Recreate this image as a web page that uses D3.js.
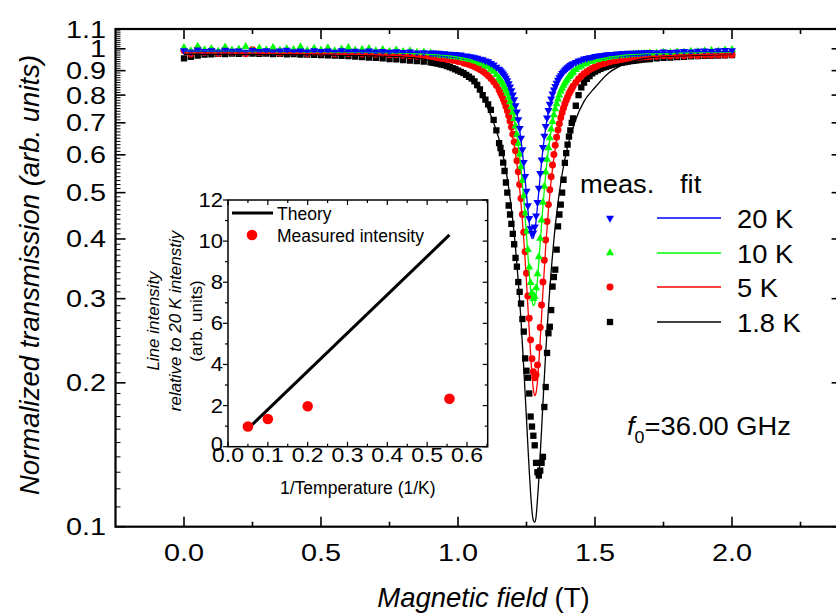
<!DOCTYPE html>
<html>
<head>
<meta charset="utf-8">
<script src="https://cdn.jsdelivr.net/npm/d3@7"></script>
<style>
  body { margin: 0; background: #fff; }
  text { font-family: "Liberation Sans", Arial, sans-serif; fill: #000; }
</style>
</head>
<body>
<svg id="ctner"></svg>
<script>
// magnetic field grid of the measured points (T)
const field = [
  0, 0.025, 0.05, 0.075, 0.1, 0.125, 0.15, 0.175, 0.2, 0.225, 0.25, 0.275, 0.3, 0.325, 0.35, 0.375, 0.4, 0.425, 0.45, 0.475, 0.5, 0.525, 0.55, 0.575, 0.6, 0.625, 0.65, 0.675, 0.7, 0.725, 0.75, 0.775, 0.8, 0.825, 0.85, 0.875, 0.9,
  0.91, 0.92, 0.93, 0.94, 0.95, 0.96, 0.97, 0.98, 0.99, 1.0, 1.01, 1.02, 1.03, 1.04, 1.05, 1.06, 1.07, 1.08, 1.09, 1.1, 1.11, 1.12, 1.13, 1.14,
  1.15, 1.155, 1.16, 1.165, 1.17, 1.175, 1.18, 1.185, 1.19, 1.195, 1.2, 1.205, 1.21, 1.215, 1.22, 1.225, 1.23, 1.235, 1.24, 1.245, 1.25, 1.255, 1.26, 1.265, 1.27, 1.275, 1.28, 1.285, 1.29, 1.295, 1.3, 1.305, 1.31, 1.315, 1.32, 1.325, 1.33, 1.335, 1.34, 1.345, 1.35, 1.355, 1.36, 1.365, 1.37, 1.375, 1.38, 1.385, 1.39, 1.395, 1.4, 1.405, 1.41, 1.415, 1.42,
  1.43, 1.44, 1.45, 1.46, 1.47, 1.48, 1.49, 1.5, 1.51, 1.52, 1.53, 1.54, 1.55, 1.56, 1.57, 1.58, 1.59, 1.6, 1.61, 1.62, 1.63, 1.64, 1.65, 1.66, 1.67, 1.68, 1.69, 1.7,
  1.725, 1.75, 1.775, 1.8, 1.825, 1.85, 1.875, 1.9, 1.925, 1.95, 1.975, 2.0
];

// measured normalized transmission, same order as field
const meas20K = [
  0.992, 0.985, 0.995, 0.988, 0.991, 0.986, 0.994, 0.989, 0.99, 0.984, 0.993, 0.988, 0.991, 0.986, 0.99, 0.994, 0.987, 0.99, 0.985, 0.992, 0.988, 0.99, 0.984, 0.991, 0.987, 0.989, 0.985, 0.99, 0.986, 0.988, 0.984, 0.987, 0.983, 0.985, 0.981, 0.982, 0.979,
  0.981, 0.978, 0.98, 0.976, 0.977, 0.973, 0.975, 0.972, 0.974, 0.97, 0.971, 0.966, 0.967, 0.963, 0.962, 0.958, 0.956, 0.952, 0.949, 0.944, 0.94, 0.932, 0.926, 0.916,
  0.9065, 0.9005, 0.894, 0.886, 0.878, 0.868, 0.858, 0.846, 0.833, 0.818, 0.801, 0.783, 0.761, 0.738, 0.711, 0.682, 0.65, 0.615, 0.579, 0.541, 0.504, 0.47, 0.442, 0.421, 0.411, 0.412, 0.424, 0.447, 0.477, 0.511, 0.549, 0.586, 0.622, 0.657, 0.688, 0.717, 0.743, 0.766, 0.786, 0.805, 0.821, 0.835, 0.848, 0.86, 0.87, 0.879, 0.888, 0.895, 0.902, 0.908, 0.913, 0.918, 0.923, 0.927, 0.931,
  0.937, 0.944, 0.947, 0.953, 0.955, 0.959, 0.96, 0.964, 0.965, 0.968, 0.968, 0.971, 0.972, 0.974, 0.973, 0.976, 0.975, 0.978, 0.977, 0.979, 0.978, 0.98, 0.979, 0.981, 0.98, 0.982, 0.981, 0.983,
  0.982, 0.985, 0.983, 0.986, 0.988, 0.986, 0.989, 0.99, 0.988, 0.991, 0.993, 0.992
];
const meas10K = [
  1.005, 0.99, 1.012, 0.995, 1.0, 0.988, 1.008, 0.993, 0.998, 1.01, 0.99, 1.003, 0.995, 1.006, 0.992, 1.0, 0.996, 1.009, 0.991, 1.002, 0.994, 1.004, 0.99, 0.998, 1.005, 0.992, 0.997, 1.001, 0.99, 0.996, 0.988, 0.994, 0.986, 0.99, 0.983, 0.984, 0.979,
  0.975, 0.971, 0.973, 0.969, 0.97, 0.966, 0.968, 0.963, 0.964, 0.96, 0.96, 0.955, 0.955, 0.95, 0.948, 0.943, 0.94, 0.933, 0.93, 0.921, 0.916, 0.905, 0.897, 0.883,
  0.869, 0.861, 0.852, 0.842, 0.831, 0.819, 0.806, 0.791, 0.774, 0.756, 0.736, 0.714, 0.689, 0.662, 0.633, 0.601, 0.566, 0.53, 0.492, 0.453, 0.415, 0.38, 0.349, 0.324, 0.308, 0.3, 0.303, 0.316, 0.338, 0.367, 0.401, 0.438, 0.477, 0.515, 0.552, 0.587, 0.62, 0.651, 0.679, 0.704, 0.7275, 0.748, 0.767, 0.784, 0.8, 0.814, 0.8265, 0.838, 0.848, 0.8576, 0.866, 0.874, 0.881, 0.8877, 0.8937,
  0.904, 0.914, 0.92, 0.929, 0.932, 0.94, 0.941, 0.948, 0.949, 0.955, 0.954, 0.96, 0.959, 0.964, 0.963, 0.967, 0.966, 0.97, 0.969, 0.972, 0.971, 0.974, 0.973, 0.976, 0.975, 0.977, 0.976, 0.979,
  0.979, 0.983, 0.981, 0.985, 0.984, 0.988, 0.986, 0.99, 0.992, 0.989, 0.994, 0.996
];
const meas5K = [
  0.99, 0.975, 1.0, 0.982, 0.992, 0.978, 0.995, 0.984, 0.988, 0.976, 0.996, 0.982, 0.985, 0.992, 0.979, 0.986, 0.983, 0.99, 0.977, 0.984, 0.98, 0.987, 0.976, 0.983, 0.978, 0.981, 0.975, 0.979, 0.974, 0.976, 0.971, 0.972, 0.969, 0.967, 0.965, 0.962, 0.96,
  0.961, 0.957, 0.958, 0.954, 0.955, 0.95, 0.951, 0.946, 0.945, 0.941, 0.94, 0.934, 0.932, 0.927, 0.923, 0.917, 0.912, 0.905, 0.897, 0.8885, 0.8784, 0.867, 0.8535, 0.838,
  0.8194, 0.809, 0.7978, 0.785, 0.772, 0.7576, 0.7416, 0.7244, 0.7055, 0.685, 0.6625, 0.638, 0.612, 0.583, 0.553, 0.52, 0.486, 0.45, 0.413, 0.376, 0.339, 0.304, 0.273, 0.246, 0.2245, 0.211, 0.205, 0.208, 0.218, 0.237, 0.261, 0.291, 0.325, 0.361, 0.398, 0.435, 0.472, 0.507, 0.54, 0.571, 0.6008, 0.628, 0.653, 0.676, 0.697, 0.717, 0.735, 0.751, 0.7666, 0.78, 0.793, 0.805, 0.8154, 0.825, 0.8345,
  0.8505, 0.8644, 0.8763, 0.8867, 0.8957, 0.9034, 0.9104, 0.9164, 0.9218, 0.9266, 0.9309, 0.9347, 0.9382, 0.9413, 0.944, 0.9466, 0.9489, 0.951, 0.953, 0.9545, 0.956, 0.9575, 0.959, 0.96, 0.961, 0.962, 0.963, 0.964,
  0.965, 0.967, 0.966, 0.968, 0.967, 0.969, 0.968, 0.97, 0.969, 0.971, 0.97, 0.972
];
const meas1p8K = [
  0.955, 0.962, 0.968, 0.972, 0.974, 0.976, 0.975, 0.977, 0.976, 0.978, 0.977, 0.976, 0.977, 0.975, 0.976, 0.974, 0.975, 0.973, 0.972, 0.971, 0.97, 0.969, 0.968, 0.966, 0.965, 0.963, 0.961, 0.959, 0.957, 0.955, 0.952, 0.95, 0.947, 0.945, 0.942, 0.94, 0.937,
  0.935, 0.932, 0.93, 0.927, 0.924, 0.92, 0.916, 0.911, 0.906, 0.9, 0.895, 0.889, 0.882, 0.874, 0.866, 0.855, 0.84, 0.822, 0.8, 0.783, 0.765, 0.745, 0.71, 0.675,
  0.635, 0.62, 0.605, 0.578, 0.555, 0.525, 0.5, 0.47, 0.45, 0.43, 0.41, 0.39, 0.365, 0.35, 0.325, 0.31, 0.293, 0.272, 0.256, 0.225, 0.212, 0.205, 0.19, 0.17, 0.162, 0.155, 0.148, 0.136, 0.13, 0.128, 0.131, 0.136, 0.14, 0.178, 0.196, 0.231, 0.254, 0.262, 0.284, 0.318, 0.333, 0.345, 0.38, 0.425, 0.45, 0.472, 0.5, 0.532, 0.577, 0.605, 0.63, 0.655, 0.675, 0.7, 0.715,
  0.76, 0.8, 0.83, 0.85, 0.865, 0.877, 0.888, 0.896, 0.902, 0.908, 0.913, 0.917, 0.921, 0.925, 0.928, 0.931, 0.934, 0.936, 0.938, 0.94, 0.942, 0.944, 0.946, 0.947, 0.949, 0.95, 0.951, 0.952,
  0.955, 0.957, 0.959, 0.961, 0.962, 0.964, 0.965, 0.966, 0.967, 0.968, 0.969, 0.97
];

// fit curves, sampled on their own field grid
const fitField = [0, 0.25, 0.5, 0.75, 0.9, 1.0, 1.05, 1.1, 1.13, 1.16, 1.18, 1.2, 1.21, 1.22, 1.23, 1.24, 1.25, 1.255, 1.26, 1.265, 1.27, 1.275, 1.28, 1.285, 1.29, 1.295, 1.3, 1.31, 1.32, 1.33, 1.34, 1.35, 1.36, 1.38, 1.4, 1.43, 1.46, 1.5, 1.55, 1.6, 1.7, 1.8, 1.9, 2.0];
const fit20K = [0.989, 0.9886, 0.9875, 0.9846, 0.9795, 0.9707, 0.9615, 0.944, 0.925, 0.892, 0.855, 0.798, 0.7575, 0.707, 0.644, 0.572, 0.496, 0.461, 0.432, 0.411, 0.401, 0.402, 0.415, 0.437, 0.468, 0.503, 0.541, 0.616, 0.683, 0.739, 0.783, 0.818, 0.846, 0.886, 0.912, 0.936, 0.951, 0.963, 0.9715, 0.9766, 0.982, 0.9847, 0.9863, 0.9872];
const fit10K = [0.9885, 0.9878, 0.9861, 0.9816, 0.9737, 0.9604, 0.9467, 0.9214, 0.8948, 0.85, 0.8028, 0.7324, 0.6848, 0.6277, 0.5602, 0.4846, 0.4069, 0.371, 0.3397, 0.3143, 0.2977, 0.29, 0.2935, 0.306, 0.3285, 0.3578, 0.392, 0.469, 0.546, 0.615, 0.6743, 0.7237, 0.764, 0.824, 0.8644, 0.903, 0.9267, 0.946, 0.96, 0.9683, 0.9771, 0.9815, 0.984, 0.9855];
const fit5K = [0.9808, 0.9796, 0.977, 0.9703, 0.9584, 0.939, 0.9196, 0.8847, 0.849, 0.792, 0.735, 0.6544, 0.6027, 0.5426, 0.4742, 0.4003, 0.3247, 0.2893, 0.2572, 0.2297, 0.208, 0.1941, 0.188, 0.1908, 0.2015, 0.2204, 0.2452, 0.3104, 0.3852, 0.4599, 0.5295, 0.5914, 0.6447, 0.7282, 0.7874, 0.846, 0.8828, 0.913, 0.9353, 0.9484, 0.9626, 0.9696, 0.9735, 0.9759];
const fit1p8K = [0.974, 0.973, 0.971, 0.965, 0.946, 0.905, 0.86, 0.771, 0.7, 0.615, 0.535, 0.437, 0.383, 0.326, 0.27, 0.215, 0.168, 0.148, 0.131, 0.1175, 0.108, 0.103, 0.1022, 0.105, 0.114, 0.1255, 0.141, 0.181, 0.231, 0.286, 0.343, 0.399, 0.452, 0.547, 0.625, 0.712, 0.776, 0.83, 0.89, 0.925, 0.958, 0.966, 0.97, 0.973];

// legend / series
const tempLabels = ["20 K", "10 K", "5 K", "1.8 K"];
const seriesColors = ["#0000ff", "#00ff00", "#ff0000", "#000000"];

// axis ticks
const xTickValues = [0, 0.5, 1, 1.5, 2];
const xTickLabels = ["0.0", "0.5", "1.0", "1.5", "2.0"];
const xMinorTicks = [0.25, 0.75, 1.25, 1.75, 2.25];
const yTickValues = [0.1, 0.2, 0.3, 0.4, 0.5, 0.6, 0.7, 0.8, 0.9, 1.0, 1.1];
const yTickLabels = ["0.1", "0.2", "0.3", "0.4", "0.5", "0.6", "0.7", "0.8", "0.9", "1", "1.1"];

// inset
const invTemp = [0.05, 0.1, 0.2, 0.556];
const lineIntensity = [0.98, 1.35, 1.97, 2.33];
const theoryInvTemp = [0.06, 0.556];
const theoryIntensity = [1.06, 10.3];
const insetXTicks = [0, 0.1, 0.2, 0.3, 0.4, 0.5, 0.6];
const insetXLabels = ["0.0", "0.1", "0.2", "0.3", "0.4", "0.5", "0.6"];
const insetYTicks = [0, 2, 4, 6, 8, 10, 12];
const insetYLabels = ["0", "2", "4", "6", "8", "10", "12"];

main();

function main() {
  const width = 836;
  const height = 613;
  const svg = d3.select("#ctner").attr("width", width).attr("height", height);
  svg.append("rect").attr("width", width).attr("height", height).attr("fill", "#fff");

  renderMain(svg);
  renderInset(svg);
}

// text with optional horizontal stretch
function label(g, x, y, str, o = {}) {
  const t = g.append("text")
    .attr("transform", `translate(${x},${y})` + (o.rotate ? ` rotate(${o.rotate})` : "") + ` scale(${o.sx || 1},1)`)
    .attr("font-size", o.size || 16)
    .attr("text-anchor", o.anchor || "start");
  if (o.italic) t.attr("font-style", "italic");
  if (str !== null) t.text(str);
  return t;
}

function renderMain(svg) {
  const x = d3.scaleLinear().domain([-0.25, 2.4]).range([115.5, 841.6]);
  const y = d3.scaleLog().domain([0.1, 1.1]).range([526.7, 29]);
  const [x0, x1] = x.range();
  const [y0, y1] = y.range();

  svg.append("defs").append("clipPath").attr("id", "plotClip")
    .append("rect").attr("x", x0).attr("y", y1).attr("width", x1 - x0).attr("height", y0 - y1);

  /* ticks: all drawn inward */
  const ticks = svg.append("g").attr("stroke", "#000").attr("stroke-width", 1.6);
  const yMinor = d3.range(11, 110).map((d) => d / 100).filter((d) => d * 10 % 1 !== 0);
  const xTick = (vals, len) => {
    ticks.append("g").selectAll("line").data(vals).join("line")
      .attr("x1", (d) => x(d)).attr("x2", (d) => x(d)).attr("y1", y0).attr("y2", y0 - len);
    ticks.append("g").selectAll("line").data(vals).join("line")
      .attr("x1", (d) => x(d)).attr("x2", (d) => x(d)).attr("y1", y1).attr("y2", y1 + len);
  };
  const yTick = (vals, len, sw) => {
    ticks.append("g").attr("stroke-width", sw).selectAll("line").data(vals).join("line")
      .attr("x1", x0).attr("x2", x0 + len).attr("y1", (d) => y(d)).attr("y2", (d) => y(d));
    ticks.append("g").attr("stroke-width", sw).selectAll("line").data(vals).join("line")
      .attr("x1", x1).attr("x2", x1 - len).attr("y1", (d) => y(d)).attr("y2", (d) => y(d));
  };
  xTick(xTickValues, 10);
  xTick(xMinorTicks, 5);
  yTick(yTickValues, 10, 1.6);
  yTick(yMinor, 5, 1);

  svg.append("rect")
    .attr("x", x0).attr("y", y1).attr("width", x1 - x0).attr("height", y0 - y1)
    .attr("fill", "none").attr("stroke", "#000").attr("stroke-width", 2.2);

  /* tick labels */
  const tl = svg.append("g");
  xTickValues.forEach((v, i) => label(tl, x(v), 561, xTickLabels[i], { size: 24, sx: 1.2, anchor: "middle" }));
  yTickValues.forEach((v, i) => label(tl, 106, y(v) + 8.5, yTickLabels[i], { size: 24, sx: 1.2, anchor: "end" }));

  /* axis titles */
  const xt = label(svg, 483.5, 607, null, { size: 27.5, anchor: "middle" });
  xt.append("tspan").attr("font-style", "italic").text("Magnetic field");
  xt.append("tspan").text(" (T)");
  label(svg, 39, 275, "Normalized transmission (arb. units)", { size: 27.5, anchor: "middle", rotate: -90, italic: true });

  /* data */
  const measured = [meas1p8K, meas5K, meas10K, meas20K];
  const fits = [fit1p8K, fit5K, fit10K, fit20K];
  const order = [3, 2, 1, 0]; // index into tempLabels
  const plot = svg.append("g").attr("clip-path", "url(#plotClip)");

  measured.forEach((vals, k) => {
    const s = order[k];
    plot.append("g")
      .attr("fill", seriesColors[s])
      .selectAll("path")
      .data(d3.zip(field, vals).filter((d) => d[1] !== undefined))
      .join("path")
      .attr("transform", (d) => `translate(${x(d[0])},${y(d[1])})` + (s === 0 ? " rotate(180)" : ""))
      .attr("d", markerPath(s));
  });

  const line = d3.line()
    .x((d) => x(d[0]))
    .y((d) => y(d[1]))
    .curve(d3.curveMonotoneX);
  fits.forEach((vals, k) => {
    const s = order[k];
    plot.append("path")
      .attr("fill", "none")
      .attr("stroke", seriesColors[s])
      .attr("stroke-width", 1.3)
      .attr("d", line(d3.zip(fitField, vals)));
  });

  /* legend */
  const lg = svg.append("g");
  label(lg, 580, 193, "meas.", { size: 26, sx: 1.05 });
  label(lg, 680, 193, "fit", { size: 26, sx: 1.05 });
  const rowY = [218, 253, 287, 322];
  tempLabels.forEach((t, s) => {
    const ry = rowY[s];
    lg.append("path")
      .attr("transform", `translate(610,${ry})` + (s === 0 ? " rotate(180)" : ""))
      .attr("d", markerPath(s))
      .attr("fill", seriesColors[s]);
    lg.append("line")
      .attr("x1", 657).attr("x2", 721).attr("y1", ry).attr("y2", ry)
      .attr("stroke", seriesColors[s]).attr("stroke-width", 1.3);
    label(lg, 737, ry + 9.5, t, { size: 26, sx: 1.05 });
  });

  /* resonance frequency */
  const f0 = label(svg, 627, 435, null, { size: 26, sx: 1.05 });
  f0.append("tspan").attr("font-style", "italic").text("f");
  f0.append("tspan").attr("font-size", 17).attr("dy", 8).text("0");
  f0.append("tspan").attr("dy", -8).text("=36.00 GHz");
}

function markerPath(s) {
  const types = [d3.symbolTriangle, d3.symbolTriangle, d3.symbolCircle, d3.symbolSquare];
  const sizes = [28, 28, 38, 40];
  return d3.symbol().type(types[s]).size(sizes[s])();
}

function renderInset(svg) {
  const x = d3.scaleLinear().domain([0, 0.652]).range([228, 487.7]);
  const y = d3.scaleLinear().domain([0, 12]).range([446.7, 200]);
  const [x0, x1] = x.range();
  const [y0, y1] = y.range();
  const g = svg.append("g");

  g.append("rect")
    .attr("x", x0).attr("y", y1).attr("width", x1 - x0).attr("height", y0 - y1)
    .attr("fill", "#fff");

  // left ticks outward, right / top / bottom ticks inward
  const ticks = g.append("g").attr("stroke", "#000").attr("stroke-width", 1.2);
  const yMinor = [1, 3, 5, 7, 9, 11];
  const xMinor = [0.05, 0.15, 0.25, 0.35, 0.45, 0.55, 0.65];
  const hTicks = (vals, len) => {
    ticks.append("g").selectAll("line").data(vals).join("line")
      .attr("x1", x0 - len).attr("x2", x0).attr("y1", (d) => y(d)).attr("y2", (d) => y(d));
    ticks.append("g").selectAll("line").data(vals).join("line")
      .attr("x1", x1 - len).attr("x2", x1).attr("y1", (d) => y(d)).attr("y2", (d) => y(d));
  };
  const vTicks = (vals, len) => {
    ticks.append("g").selectAll("line").data(vals).join("line")
      .attr("x1", (d) => x(d)).attr("x2", (d) => x(d)).attr("y1", y0).attr("y2", y0 - len);
    ticks.append("g").selectAll("line").data(vals).join("line")
      .attr("x1", (d) => x(d)).attr("x2", (d) => x(d)).attr("y1", y1).attr("y2", y1 + len);
  };
  hTicks(insetYTicks, 5);
  hTicks(yMinor, 3);
  vTicks(insetXTicks, 5);
  vTicks(xMinor, 3);

  g.append("rect")
    .attr("x", x0).attr("y", y1).attr("width", x1 - x0).attr("height", y0 - y1)
    .attr("fill", "none").attr("stroke", "#000").attr("stroke-width", 1.5);

  insetXTicks.forEach((v, i) => label(g, x(v), 462, insetXLabels[i], { size: 20, sx: 1.15, anchor: "middle" }));
  insetYTicks.forEach((v, i) => label(g, 223, y(v) + (v === 0 ? 4 : 7), insetYLabels[i], { size: 20, sx: 1.1, anchor: "end" }));

  label(g, 357.8, 494, "1/Temperature (1/K)", { size: 17.5, anchor: "middle" });
  label(g, 159, 321, "Line intensity", { size: 17, anchor: "middle", rotate: -90, italic: true });
  label(g, 181, 321, "relative to 20 K intenstiy", { size: 17, anchor: "middle", rotate: -90, italic: true });
  label(g, 202, 321, "(arb. units)", { size: 17, anchor: "middle", rotate: -90 });

  g.append("path")
    .attr("fill", "none").attr("stroke", "#000").attr("stroke-width", 3)
    .attr("d", d3.line().x((d) => x(d[0])).y((d) => y(d[1]))(d3.zip(theoryInvTemp, theoryIntensity)));

  g.append("g").attr("fill", "#ff0000")
    .selectAll("circle")
    .data(d3.zip(invTemp, lineIntensity))
    .join("circle")
    .attr("cx", (d) => x(d[0])).attr("cy", (d) => y(d[1])).attr("r", 5.3);

  /* inset legend */
  g.append("line").attr("x1", 232).attr("x2", 273).attr("y1", 213).attr("y2", 213)
    .attr("stroke", "#000").attr("stroke-width", 3);
  label(g, 277, 219.5, "Theory", { size: 17.5 });
  g.append("circle").attr("cx", 252).attr("cy", 235).attr("r", 5.3).attr("fill", "#ff0000");
  label(g, 277, 241.5, "Measured intensity", { size: 17.5 });
}
</script>
</body>
</html>
